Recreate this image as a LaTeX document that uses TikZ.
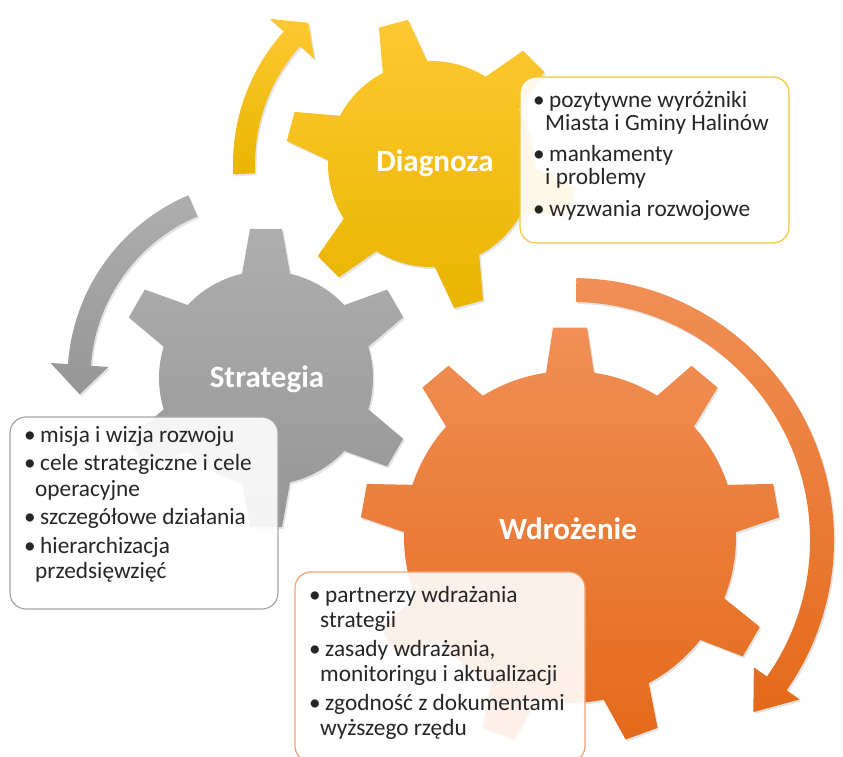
\documentclass[tikz,border=0pt]{standalone}
\usepackage{fontspec}
\setmainfont{Carlito}
\usetikzlibrary{shadows}
\definecolor{ytop}{RGB}{255,200,50}
\definecolor{ybot}{RGB}{233,181,0}
\definecolor{gtop}{RGB}{174,174,174}
\definecolor{gbot}{RGB}{150,150,150}
\definecolor{otop}{RGB}{241,143,86}
\definecolor{obot}{RGB}{228,106,26}
\definecolor{yline}{RGB}{245,197,58}
\definecolor{gline}{RGB}{165,165,165}
\definecolor{oline}{RGB}{242,160,112}
\definecolor{txt}{RGB}{38,38,38}
% gear: options, cx, cy, tip radius, body radius, teeth, start angle, tip half width, base half width
\newcommand\mygear[9]{%
  \pgfmathsetmacro\gs{360/#6}%
  \pgfmathsetmacro\gb{asin(#9/#5)}%
  \pgfmathsetmacro\gt{asin(#8/#4)}%
  \path[shift={(#2,#3)},#1] ({#7+\gb}:#5)
    \foreach \k in {1,...,#6}{
      arc[start angle={#7+(\k-1)*\gs+\gb}, end angle={#7+\k*\gs-\gb}, radius=#5]
      -- ({#7+\k*\gs-\gt}:#4) -- ({#7+\k*\gs+\gt}:#4) -- ({#7+\k*\gs+\gb}:#5)
    } -- cycle;%
}
% circular arrow: options, cx, cy, centre radius, half width, head half width, tail angle, head base angle, tip angle
\newcommand\myarrow[9]{%
  \path[shift={(#2,#3)},#1] ({#7}:{#4+#5})
    arc[start angle=#7, end angle=#8, radius={#4+#5}]
    -- ({#8}:{#4+#6}) -- ({#9}:#4) -- ({#8}:{#4-#6}) -- ({#8}:{#4-#5})
    arc[start angle=#8, end angle=#7, radius={#4-#5}] -- cycle;%
}
\newcommand\bl[1]{\makebox[16pt][l]{•}#1}
\newcommand\cl[2][11pt]{\hspace*{#1}#2}
\tikzset{
  sh/.style={drop shadow={opacity=0.22,shadow xshift=1.5pt,shadow yshift=-2pt}},
  gearY/.style={top color=ytop,bottom color=ybot,sh},
  gearG/.style={top color=gtop,bottom color=gbot,sh},
  gearO/.style={top color=otop,bottom color=obot,sh},
  title/.style={anchor=base,inner sep=0pt,text=white,font=\bfseries\fontsize{31pt}{31pt}\selectfont},
  infobox/.style={rectangle,rounded corners=16pt,fill=white,fill opacity=0.9,line width=1.2pt,inner sep=0pt},
  infotext/.style={anchor=base west,inner sep=0pt,text=txt,font=\fontsize{23.3pt}{24pt}\selectfont}
}
\begin{document}
\begin{tikzpicture}[x=1pt,y=1pt]
\useasboundingbox (0,0) rectangle (843,757);
% gears
\mygear{gearG}{266}{379}{150}{107}{6}{30}{16}{24}
\mygear{gearY}{431}{593}{146}{103}{6}{45}{15}{23}
\mygear{gearO}{570}{220}{210}{166}{9}{10}{17}{24}
% arrows
\myarrow{top color=ytop,bottom color=ybot,sh}{431}{593}{187}{11}{30}{183}{138}{131}
\myarrow{top color=gtop,bottom color=gbot,sh}{266}{379}{187}{11.5}{29}{113}{176}{185}
\myarrow{top color=otop,bottom color=obot,sh}{572}{217}{250}{12}{28}{89}{-35}{-43.5}
% titles
\node[title] (diag) at (435,585) {Diagnoza};
\node[title] (strat) at (267,369) {Strategia};
\node[title] (wdr) at (568,217) {Wdrożenie};
% boxes
\node[infobox,draw=yline,minimum width=269pt,minimum height=166pt] (ybox) at (654.5,597) {};
\node[infobox,draw=gline,minimum width=268pt,minimum height=192pt] (gbox) at (144,244) {};
\node[infobox,draw=oline,minimum width=290pt,minimum height=190pt] (obox) at (440,90) {};
% texts
\node[infotext] (ytext) at (533,649.5) {\vtop{\hsize=250pt\parindent=0pt\parskip=0pt\baselineskip=23pt
\bl{pozytywne wyróżniki}\par
\cl[12pt]{Miasta i Gminy Halinów}\par\vspace{8.5pt}
\bl{mankamenty}\par
\cl[12pt]{i problemy}\par\vspace{8.5pt}
\bl{wyzwania rozwojowe}\par}};
\node[infotext] (gtext) at (24,314.5) {\vtop{\hsize=250pt\parindent=0pt\parskip=0pt\baselineskip=25.5pt
\bl{misja i wizja rozwoju}\par\vspace{3pt}
\bl{cele strategiczne i cele}\par
\cl{operacyjne}\par\vspace{3pt}
\bl{szczegółowe działania}\par\vspace{3pt}
\bl{hierarchizacja}\par
\cl{przedsięwzięć}\par}};
\node[infotext] (otext) at (309,154.5) {\vtop{\hsize=270pt\parindent=0pt\parskip=0pt\baselineskip=25pt
\bl{partnerzy wdrażania}\par
\cl{strategii}\par\vspace{4pt}
\bl{zasady wdrażania,}\par
\cl{monitoringu i aktualizacji}\par\vspace{4pt}
\bl{zgodność z dokumentami}\par
\cl{wyższego rzędu}\par}};
\end{tikzpicture}
\end{document}
